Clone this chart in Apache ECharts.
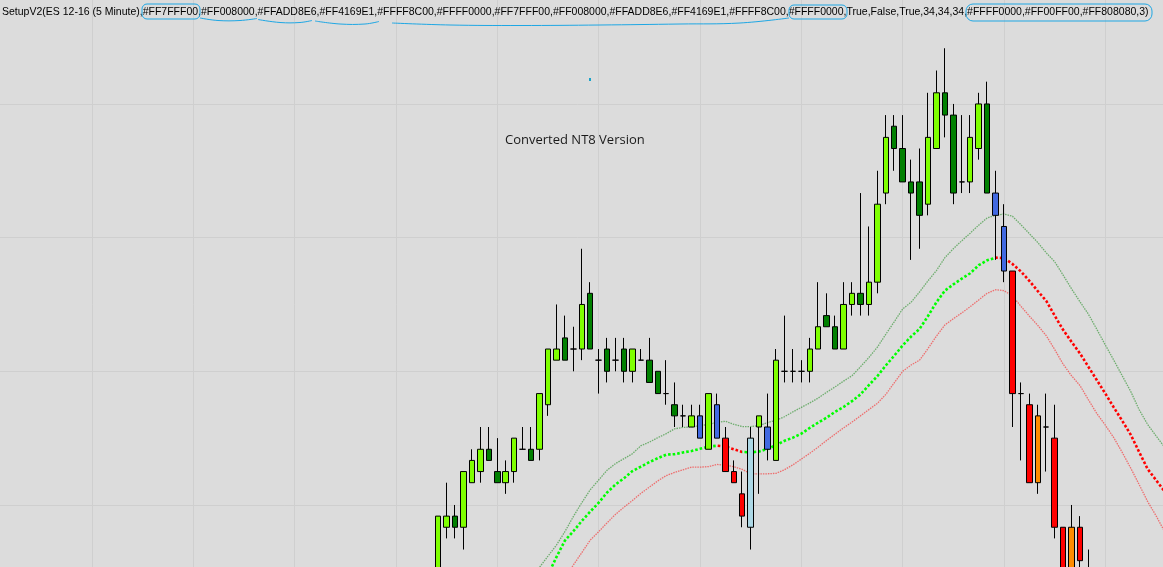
<!DOCTYPE html>
<html><head><meta charset="utf-8">
<script src="https://cdn.jsdelivr.net/npm/echarts@6/dist/echarts.min.js"></script>
<style>html,body{margin:0;padding:0;background:#dcdcdc;overflow:hidden;width:1163px;height:567px;position:relative;}
#c{position:absolute;left:-10px;top:-30px;width:1175px;height:669px;}</style>
</head><body><div id="c"></div>
<script>
// ---------- data ----------
const TITLE = 'SetupV2(ES 12-16 (5 Minute),#FF7FFF00,#FF008000,#FFADD8E6,#FF4169E1,#FFFF8C00,#FFFF0000,#FF7FFF00,#FF008000,#FFADD8E6,#FF4169E1,#FFFF8C00,#FFFF0000,True,False,True,34,34,34,#FFFF0000,#FF00FF00,#FF808080,3)';
const NOTE = 'Converted NT8 Version';
const BAR_COUNT = 140;           // 5-minute bars on the axis
const FIRST_CANDLE = 53;         // index of first visible candle
const opens  = [2125.00,2126.50,2126.75,2126.50,2127.50,2127.75,2128.25,2127.75,2127.50,2127.75,2128.25,2128.25,2128.25,2129.25,2130.25,2130.75,2130.50,2130.50,2131.75,2130.25,2130.50,2130.25,2130.50,2130.00,2130.25,2130.25,2130.00,2129.50,2129.25,2129.00,2128.75,2129.00,2128.25,2129.25,2128.50,2127.75,2127.25,2126.50,2128.75,2128.75,2128.00,2130.00,2130.00,2130.00,2130.00,2130.50,2131.25,2131.00,2130.50,2131.50,2131.75,2131.50,2132.00,2134.00,2135.50,2135.00,2134.25,2134.25,2133.75,2135.00,2136.25,2135.75,2134.25,2134.25,2135.00,2136.00,2134.00,2133.25,2132.25,2129.50,2129.25,2127.50,2128.75,2128.50,2126.50,2125.25,2126.50,2125.25];
const highs  = [2126.75,2127.50,2127.00,2127.75,2128.25,2128.75,2128.75,2128.50,2128.00,2128.50,2128.75,2128.75,2129.50,2130.50,2131.50,2131.25,2131.00,2132.75,2132.00,2130.50,2130.75,2130.75,2130.75,2130.50,2130.50,2130.75,2130.00,2130.25,2129.75,2129.25,2129.25,2129.25,2129.50,2129.50,2128.75,2128.00,2127.75,2128.75,2129.00,2129.50,2130.50,2131.25,2130.50,2130.25,2130.75,2132.00,2131.75,2131.25,2132.00,2132.00,2134.00,2133.25,2134.50,2135.75,2135.75,2135.75,2134.75,2135.00,2136.25,2136.75,2137.25,2136.00,2135.75,2135.75,2136.25,2136.50,2134.50,2133.75,2132.25,2129.75,2129.50,2129.25,2129.50,2129.25,2126.50,2127.00,2126.75,2126.00];
const lows   = [2124.75,2126.25,2126.25,2126.00,2127.50,2127.50,2128.00,2127.50,2127.25,2127.50,2128.25,2128.00,2128.00,2129.00,2130.25,2130.25,2130.00,2130.25,2130.50,2129.50,2129.75,2130.00,2129.75,2129.75,2130.25,2129.75,2129.50,2129.25,2128.75,2128.75,2128.75,2128.50,2128.25,2128.50,2127.75,2127.50,2126.50,2126.00,2127.25,2128.00,2128.00,2129.75,2129.75,2129.75,2129.75,2130.50,2131.00,2130.50,2130.50,2131.25,2131.25,2131.25,2131.75,2133.75,2134.50,2134.25,2132.50,2132.75,2133.50,2135.00,2135.25,2133.75,2134.00,2134.00,2134.75,2134.00,2132.50,2132.00,2128.75,2128.00,2127.50,2127.25,2127.75,2126.25,2125.00,2125.00,2125.50,2124.75];
const closes = [2126.75,2126.75,2126.50,2127.75,2128.00,2128.25,2128.00,2127.50,2127.75,2128.50,2128.25,2128.00,2129.50,2130.50,2130.50,2130.25,2130.50,2131.50,2130.50,2130.25,2130.00,2130.25,2130.00,2130.50,2130.25,2129.75,2129.50,2129.50,2129.00,2129.00,2129.00,2128.50,2129.50,2128.50,2127.75,2127.50,2126.75,2128.50,2129.00,2128.25,2130.25,2130.00,2130.00,2130.00,2130.50,2131.00,2131.00,2130.50,2131.50,2131.75,2131.50,2132.00,2133.75,2135.25,2135.00,2134.25,2134.00,2133.50,2135.25,2136.25,2135.75,2134.00,2134.25,2135.25,2136.00,2134.00,2133.50,2132.25,2129.50,2129.50,2127.50,2129.00,2128.75,2126.50,2125.25,2126.50,2125.75,2125.00];
// trend state of each candle: B = bullish, N = neutral, S = bearish
const trend = 'BBBBBBBBBBBBBBBBBBBBBBBBBBBBBBBNBNSSSNBNBBBBBBBBBBBBBBBBBBBBBBBBBBNNSSSSSSSSSS'.split('');
// three 34-period averages (high / close / low)
const UPPER_START = 63;
const upperAvg = [2125.05,2125.32,2125.60,2125.85,2126.10,2126.40,2126.74,2127.05,2127.34,2127.56,2127.78,2127.93,2128.04,2128.15,2128.33,2128.41,2128.51,2128.60,2128.71,2128.74,2128.75,2128.78,2128.81,2128.85,2128.88,2128.81,2128.76,2128.76,2128.78,2128.85,2128.90,2128.98,2129.09,2129.19,2129.29,2129.40,2129.53,2129.65,2129.78,2129.90,2130.10,2130.31,2130.54,2130.83,2131.11,2131.40,2131.55,2131.78,2132.03,2132.26,2132.55,2132.75,2132.93,2133.10,2133.28,2133.44,2133.50,2133.53,2133.48,2133.29,2133.09,2132.89,2132.66,2132.46,2132.16,2131.85,2131.56,2131.28,2130.94,2130.59,2130.25,2129.90,2129.55,2129.14,2128.81,2128.55,2128.30];
const MID_START = 64;
const midAvg = [2124.70,2125.05,2125.43,2125.83,2126.20,2126.41,2126.64,2126.85,2127.05,2127.28,2127.46,2127.60,2127.76,2127.86,2127.96,2128.05,2128.13,2128.14,2128.18,2128.21,2128.26,2128.31,2128.33,2128.31,2128.25,2128.19,2128.18,2128.20,2128.26,2128.34,2128.44,2128.51,2128.60,2128.73,2128.85,2128.96,2129.09,2129.20,2129.33,2129.48,2129.69,2129.89,2130.13,2130.35,2130.58,2130.78,2130.95,2131.24,2131.55,2131.81,2131.95,2132.08,2132.20,2132.38,2132.49,2132.55,2132.54,2132.41,2132.24,2132.03,2131.80,2131.58,2131.25,2130.93,2130.66,2130.40,2130.10,2129.80,2129.50,2129.19,2128.89,2128.58,2128.19,2127.81,2127.56,2127.31];
const LOWER_START = 67;
const lowerAvg = [2125.10,2125.38,2125.65,2125.93,2126.21,2126.40,2126.60,2126.79,2126.95,2127.10,2127.26,2127.40,2127.54,2127.66,2127.73,2127.79,2127.85,2127.85,2127.86,2127.91,2127.89,2127.86,2127.80,2127.70,2127.70,2127.70,2127.71,2127.79,2127.90,2128.03,2128.16,2128.30,2128.45,2128.59,2128.73,2128.86,2129.00,2129.14,2129.28,2129.48,2129.74,2130.00,2130.14,2130.25,2130.51,2130.79,2131.04,2131.18,2131.31,2131.45,2131.60,2131.75,2131.83,2131.81,2131.69,2131.46,2131.24,2131.03,2130.80,2130.49,2130.16,2129.90,2129.68,2129.36,2129.05,2128.79,2128.51,2128.18,2127.83,2127.46,2127.08,2126.76,2126.41];
// bar ranges where the middle average is falling (drawn red)
const fallingRanges = [[85.8, 88.6], [118.8, 139]];
const PRICE_MIN = 2124, PRICE_MAX = 2139, PRICE_STEP = 3;

// ---------- build ----------
const times = [];
for (let i = 0; i < BAR_COUNT; i++) {
  const m = 8 * 60 + 30 + 5 * i;
  times.push(String(Math.floor(m / 60)).padStart(2, '0') + ':' + String(m % 60).padStart(2, '0'));
}
const COL = { B: ['#7FFF00', '#008000'], N: ['#ADD8E6', '#4169E1'], S: ['#FF8C00', '#FF0000'] };
const candleData = new Array(BAR_COUNT).fill('-');
opens.forEach((o, i) => {
  const c = closes[i];
  const pair = COL[trend[i]];
  const fill = c >= o ? pair[0] : pair[1];
  candleData[FIRST_CANDLE + i] = {
    value: [o, c, lows[i], highs[i]],
    itemStyle: { color: fill, color0: fill, borderColor: '#000', borderColor0: '#000', borderColorDoji: '#000' }
  };
});
function pad(start, arr) {
  const out = new Array(BAR_COUNT).fill('-');
  arr.forEach((v, i) => { out[start + i] = v; });
  return out;
}
const pieces = [];
let prev = -1;
fallingRanges.forEach(([a, b]) => {
  pieces.push({ gte: prev, lt: a, color: '#00FF00' });
  pieces.push({ gte: a, lt: b + 0.001, color: '#FF0000' });
  prev = b + 0.001;
});

// container is offset by (-10,-30) so the plot can run past the page edges
const OX = 10, OY = 30;
// hand-drawn highlight strokes over the title (page pixels)
const MARK = '#1ea7e4';
const markBoxes = [[142, 4, 58, 15, 5], [789, 5, 58, 14, 5], [966, 4, 186, 17, 7]];
const markCurves = [
  [[200, 18], [218, 20.5], [240, 20.5], [257, 18.5]],
  [[258, 19.5], [280, 22.5], [300, 22.5], [312, 20.5]],
  [[315, 21], [340, 24], [365, 24], [379, 21.5]],
  [[392, 23], [450, 25], [520, 25.5], [600, 25], [680, 24], [740, 23], [789, 18]]
];
const graphics = [
  { type: 'text', left: 2 + OX, top: 7 + OY, z: 10,
    style: { text: TITLE, font: '10.5px "Liberation Sans", Arial, sans-serif', fill: '#000' } },
  { type: 'text', left: 505 + OX, top: 134 + OY, z: 10,
    style: { text: NOTE, font: '13px "Open Sans", "Noto Sans", sans-serif', fill: '#1a1a1a' } },
  { type: 'rect', shape: { x: 589 + OX, y: 78 + OY, width: 2, height: 3 }, style: { fill: '#1aa3c8' }, z: 10 }
];
markBoxes.forEach(([x, y, w, h, r]) => graphics.push({ type: 'rect', z: 11, silent: true,
  shape: { x: x + OX, y: y + OY, width: w, height: h, r: r },
  style: { fill: 'none', stroke: MARK, lineWidth: 1 } }));
markCurves.forEach(pts => graphics.push({ type: 'polyline', z: 11, silent: true,
  shape: { points: pts.map(p => [p[0] + OX, p[1] + OY]), smooth: 0.4 },
  style: { fill: 'none', stroke: MARK, lineWidth: 1 } }));

const chart = echarts.init(document.getElementById('c'), null, { renderer: 'canvas', width: 1175, height: 669 });
chart.setOption({
  animation: false,
  backgroundColor: '#dcdcdc',
  grid: { left: 0.6, right: 0.545, top: 0.26, bottom: 0.34, containLabel: false },
  xAxis: {
    type: 'category', data: times, boundaryGap: false,
    axisLine: { show: false }, axisTick: { show: false }, axisLabel: { show: false },
    splitLine: { show: true, interval: 11, lineStyle: { color: '#cfcfcf', width: 1 } }
  },
  yAxis: {
    type: 'value', min: PRICE_MIN, max: PRICE_MAX, interval: PRICE_STEP,
    axisLine: { show: false }, axisTick: { show: false }, axisLabel: { show: false },
    splitLine: { show: true, lineStyle: { color: '#cfcfcf', width: 1 } }
  },
  visualMap: { type: 'piecewise', show: false, seriesIndex: 2, dimension: 0, pieces: pieces },
  series: [
    { type: 'line', data: pad(UPPER_START, upperAvg), showSymbol: false, z: 1,
      lineStyle: { color: 'rgba(0,128,0,0.5)', width: 1.3, type: [1.5, 1] } },
    { type: 'line', data: pad(LOWER_START, lowerAvg), showSymbol: false, z: 1,
      lineStyle: { color: 'rgba(255,0,0,0.5)', width: 1.3, type: [1.5, 1] } },
    { type: 'line', data: pad(MID_START, midAvg), showSymbol: false, z: 2,
      lineStyle: { width: 2.6, type: [2.6, 2] } },
    { type: 'candlestick', data: candleData, barWidth: 6, z: 3,
      itemStyle: { borderWidth: 1, borderColor: '#000', borderColor0: '#000' } }
  ],
  graphic: graphics
});
</script></body></html>
